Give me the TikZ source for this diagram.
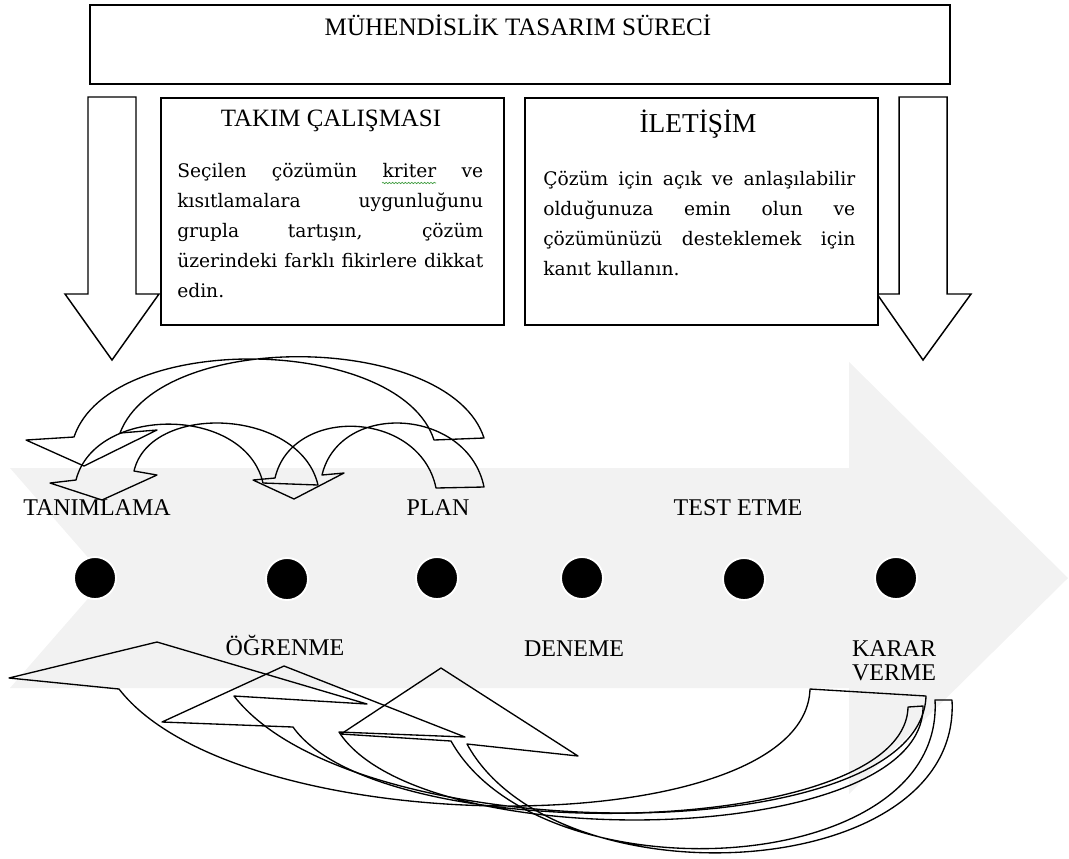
\documentclass[tikz,border=0pt]{standalone}
\usepackage{fontspec}
\setmainfont{Liberation Serif}
\newfontfamily\bodyfont{DejaVu Serif}
\usetikzlibrary{decorations.pathmorphing}
\definecolor{bandgrey}{HTML}{F2F2F2}
\definecolor{spellgreen}{HTML}{3C9A3C}

\begin{document}
\begin{tikzpicture}[x=0.75pt,y=-0.75pt,
  frame/.style={draw=black, line width=1.2pt, fill=white},
  downarrow/.style={draw=black, line width=1.1pt, fill=white, line join=miter},
  curvearrow/.style={draw=black, line width=1pt, line join=round},
  stage/.style={font=\fontsize{18}{18}\selectfont, inner sep=0pt},
  heading/.style={font=\fontsize{18.8}{22}\selectfont, inner sep=0pt, anchor=base},
  bodytext/.style={inner sep=0pt, anchor=base west},
  milestone/.style={circle, fill=black, draw=white, line width=1.4pt,
                    minimum size=31.5pt, inner sep=0pt}
]
\useasboundingbox (0,0) rectangle (1069,858);

% process band: notched block arrow
\fill[bandgrey] (10,468) -- (849,468) -- (849,362) -- (1068,578) -- (849,794)
  -- (849,688) -- (10,688) -- (106,578) -- cycle;

% milestones along the band
\node[milestone] (m1) at (95,578) {};
\node[milestone] (m2) at (287,579) {};
\node[milestone] (m3) at (437,578) {};
\node[milestone] (m4) at (582,578) {};
\node[milestone] (m5) at (744,579) {};
\node[milestone] (m6) at (896,578) {};

% stage names
\node[stage, anchor=base] (tanim) at (97,515) {TANIMLAMA};
\node[stage, anchor=base] (plan) at (438,515) {PLAN};
\node[stage, anchor=base] (test) at (738,515) {TEST ETME};
\node[stage, anchor=base] (ogren) at (285,655) {ÖĞRENME};
\node[stage, anchor=base] (dene) at (574,656) {DENEME};
\node[stage, anchor=base, align=center] (karar) at (894,680) {KARAR\\VERME};

% feedback arrows above the band
\draw[curvearrow] (74,437) .. controls (110,330) and (400,335) .. (434,440)
  -- (484,438) .. controls (450,333) and (160,328) .. (120,433)
  -- (157,430) -- (84,466) -- (26,440) -- cycle;
\draw[curvearrow] (76,480) .. controls (95,405) and (245,405) .. (263,483)
  -- (318,485) .. controls (300,408) and (150,402) .. (134,471)
  -- (157,475) -- (102,500) -- (50,483) -- cycle;
\draw[curvearrow] (275,478) .. controls (292,405) and (420,410) .. (436,488)
  -- (484,487) .. controls (468,408) and (340,400) .. (322,475)
  -- (344,473) -- (294,499) -- (253,480) -- cycle;

% feedback arrows below the band
\draw[curvearrow] (119,689) .. controls (240,845) and (805,845) .. (810,689)
  -- (926,696) .. controls (921,852) and (355,852) .. (234,696)
  -- (367,704) -- (157,642) -- (9,678) -- cycle;
\draw[curvearrow] (293,727) .. controls (380,850) and (905,840) .. (908,707)
  -- (923,706) .. controls (925,848) and (420,858) .. (339,732)
  -- (465,737) -- (284,666) -- (162,722) -- cycle;
\draw[curvearrow] (451,741) .. controls (540,900) and (945,880) .. (935,700)
  -- (952,700) .. controls (962,885) and (555,905) .. (467,744)
  -- (578,756) -- (441,668) -- (341,734) -- cycle;

% top frame
\node[frame, anchor=north west, minimum width=645pt, minimum height=59.25pt]
  (titlebox) at (89,4) {};
\node[heading] (title) at (518,35) {MÜHENDİSLİK TASARIM SÜRECİ};

% side arrows
\draw[downarrow] (88,97) -- (136,97) -- (136,294) -- (159,294) -- (112,360)
  -- (65,294) -- (88,294) -- cycle;
\draw[downarrow] (899,97) -- (947,97) -- (947,294) -- (971,294) -- (923,360)
  -- (877,294) -- (899,294) -- cycle;

% teamwork box
\node[frame, anchor=north west, minimum width=257.25pt, minimum height=170.25pt]
  (teambox) at (160,97) {};
\node[heading, font=\fontsize{18.7}{22}\selectfont] (teamhead) at (331,126)
  {TAKIM ÇALIŞMASI};
\node[bodytext] (teamtext) at (177,177) {\parbox[t]{229.5pt}{%
  \bodyfont\fontsize{14}{22.5}\selectfont
  \makebox[\linewidth][s]{Seçilen çözümün kriter ve}\\
  \makebox[\linewidth][s]{kısıtlamalara uygunluğunu}\\
  \makebox[\linewidth][s]{grupla tartışın, çözüm}\\
  \makebox[\linewidth][s]{üzerindeki farklı fikirlere dikkat}\\
  edin.}};
\draw[spellgreen, line width=0.5pt, decorate,
  decoration={snake, amplitude=0.5pt, segment length=2.4pt}]
  (382,183) -- (436,183);

% communication box
\node[frame, anchor=north west, minimum width=264.75pt, minimum height=170.25pt]
  (commbox) at (524,97) {};
\node[heading, font=\fontsize{20.5}{24}\selectfont] (commhead) at (698,132)
  {İLETİŞİM};
\node[bodytext] (commtext) at (543,185) {\parbox[t]{234pt}{%
  \bodyfont\fontsize{14}{22.5}\selectfont
  \makebox[\linewidth][s]{Çözüm için açık ve anlaşılabilir}\\
  \makebox[\linewidth][s]{olduğunuza emin olun ve}\\
  \makebox[\linewidth][s]{çözümünüzü desteklemek için}\\
  kanıt kullanın.}};
\end{tikzpicture}
\end{document}
